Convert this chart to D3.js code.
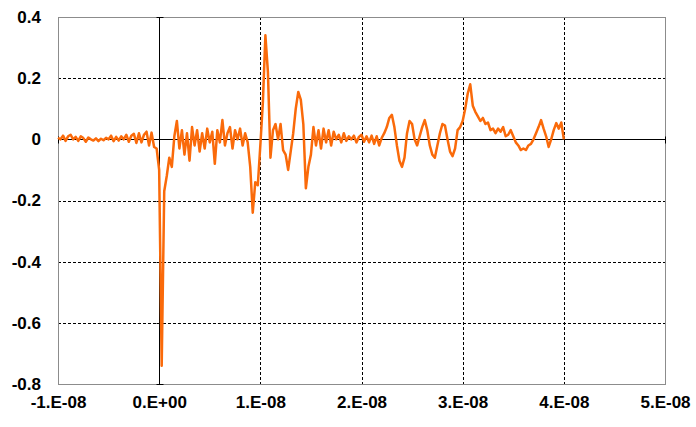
<!DOCTYPE html>
<html lang="en">
<head>
  <meta charset="UTF-8">
  <title>signal</title>
  <style>
    body { margin: 0; background: #fff; }
    #main { width: 696px; height: 427px; }
    .tick text { font-family: "Liberation Sans", Arial, sans-serif; font-weight: bold; font-size: 17px; fill: #000; }
  </style>
</head>
<body>
  <div id="main"></div>
  <script src="https://cdnjs.cloudflare.com/ajax/libs/d3/7.8.5/d3.min.js"></script>
  <script>
    // ticks
    const xTicks = [-1e-8, 0, 1e-8, 2e-8, 3e-8, 4e-8, 5e-8]
    const xTickLabels = ['-1.E-08', '0.E+00', '1.E-08', '2.E-08', '3.E-08', '4.E-08', '5.E-08']
    const yTicks = [-0.8, -0.6, -0.4, -0.2, 0, 0.2, 0.4]
    const yTickLabels = ['-0.8', '-0.6', '-0.4', '-0.2', '0', '0.2', '0.4']

    // sampled every 0.25 ns starting at -10 ns
    const startNs = -10
    const stepNs = 0.25
    const signal = [
      // -10 .. -1 ns
      0.005, 0.0, 0.012, -0.005,
      0.01, 0.015, 0.0, 0.008,
      -0.005, 0.01, 0.004, -0.008,
      0.006, 0.0, -0.004, 0.003,
      -0.006, 0.002, -0.003, 0.005,
      0.0, 0.012, -0.006, 0.008,
      -0.004, 0.01, 0.0, 0.015,
      -0.008, 0.012, 0.018, -0.012,
      0.02, -0.01, 0.015, 0.025,
      -0.02, 0.022, -0.025, -0.03,
      // 0 .. 9 ns
      -0.1, -0.74, -0.17, -0.12,
      -0.06, -0.09, 0.01, 0.06,
      -0.03, 0.03, -0.05, 0.02,
      -0.07, 0.04, -0.02, 0.03,
      -0.04, 0.02, -0.03, 0.035,
      -0.01, 0.025, -0.08, 0.03,
      -0.01, 0.063, -0.02, 0.02,
      0.04, -0.03, 0.03, 0.0,
      0.035, -0.02, 0.02, -0.01,
      -0.09, -0.24, -0.14, -0.15,
      // 10 .. 19 ns
      -0.02, 0.12, 0.34, 0.22,
      -0.06, 0.03, 0.05, 0.0,
      0.05, -0.035, -0.05, -0.1,
      -0.04, 0.02, 0.1, 0.155,
      0.13, 0.05, -0.16, -0.09,
      -0.05, 0.04, -0.02, 0.03,
      -0.03, 0.035, -0.01, 0.03,
      -0.02, 0.025, 0.0, 0.015,
      -0.01, 0.02, -0.005, 0.01,
      0.0, 0.012, -0.01, 0.008,
      // 20 .. 29 ns
      0.015, -0.008, 0.01, -0.01,
      0.012, -0.015, 0.01, -0.02,
      0.005, 0.02, 0.04, 0.07,
      0.08, 0.04, -0.02, -0.07,
      -0.09, -0.06, 0.02, 0.06,
      0.05, 0.0, -0.02, 0.01,
      0.04, 0.063, 0.03, -0.02,
      -0.05, -0.06, -0.02, 0.02,
      0.05, 0.045, 0.0, -0.04,
      -0.055, -0.03, 0.03, 0.04,
      // 30 .. 40 ns
      0.06, 0.1, 0.15, 0.18,
      0.11, 0.09, 0.075, 0.06,
      0.07, 0.05, 0.055, 0.03,
      0.035, 0.02, 0.035, 0.025,
      0.04, 0.01, 0.015, 0.03,
      0.01, -0.01, -0.02, -0.035,
      -0.03, -0.035, -0.02, -0.015,
      0.0, 0.02, 0.04, 0.063,
      0.035, 0.01, -0.025, 0.0,
      0.03, 0.053, 0.035, 0.055,
      0.0
    ]

    const [width, height] = [696, 427]
    const margin = { left: 58, right: 31, top: 17, bottom: 43 }

    const svg = d3.select('#main').append('svg')
      .attr('width', width)
      .attr('height', height)
      .attr('viewBox', `0 0 ${width} ${height}`)

    const xScale = d3.scaleLinear()
      .domain([xTicks[0], xTicks[xTicks.length - 1]])
      .range([margin.left, width - margin.right])
    const yScale = d3.scaleLinear()
      .domain([yTicks[0], yTicks[yTicks.length - 1]])
      .range([height - margin.bottom, margin.top])

    const [x0, x1] = xScale.range()
    const [y0, y1] = yScale.range()

    // dashed grid
    const gridY = yTicks.filter(v => v !== 0 && v !== yTicks[0] && v !== yTicks[yTicks.length - 1])
    const gridX = xTicks.filter(v => v !== 0 && v !== xTicks[0] && v !== xTicks[xTicks.length - 1])
    svg.append('g')
      .selectAll('line')
      .data(gridY)
      .join('line')
      .attr('x1', x0).attr('x2', x1)
      .attr('y1', d => Math.round(yScale(d)) + 0.5)
      .attr('y2', d => Math.round(yScale(d)) + 0.5)
      .attr('stroke', '#000')
      .attr('stroke-dasharray', '3,2')
    svg.append('g')
      .selectAll('line')
      .data(gridX)
      .join('line')
      .attr('y1', y1).attr('y2', y0)
      .attr('x1', d => Math.round(xScale(d)) + 0.5)
      .attr('x2', d => Math.round(xScale(d)) + 0.5)
      .attr('stroke', '#000')
      .attr('stroke-dasharray', '3,2')

    // plot border
    svg.append('rect')
      .attr('x', x0 + 0.5).attr('y', y1 + 0.5)
      .attr('width', x1 - x0).attr('height', y0 - y1)
      .attr('fill', 'none')
      .attr('stroke', '#8c8c8c')

    // zero axes
    const zx = Math.round(xScale(0)) + 0.5
    const zy = Math.round(yScale(0)) + 0.5
    svg.append('line')
      .attr('x1', x0).attr('x2', x1 + 1).attr('y1', zy).attr('y2', zy)
      .attr('stroke', '#000')
    svg.append('line')
      .attr('x1', zx).attr('x2', zx).attr('y1', y1).attr('y2', y0 + 1)
      .attr('stroke', '#000')
    svg.append('g')
      .selectAll('line')
      .data(xTicks)
      .join('line')
      .attr('x1', d => Math.round(xScale(d)) + 0.5)
      .attr('x2', d => Math.round(xScale(d)) + 0.5)
      .attr('y1', zy - 3).attr('y2', zy + 4)
      .attr('stroke', '#000')
    svg.append('g')
      .selectAll('line')
      .data(yTicks)
      .join('line')
      .attr('y1', d => Math.round(yScale(d)) + 0.5)
      .attr('y2', d => Math.round(yScale(d)) + 0.5)
      .attr('x1', zx - 3).attr('x2', zx + 4)
      .attr('stroke', '#000')

    // tick labels
    svg.append('g')
      .attr('transform', `translate(0 ${y0 + 9})`)
      .call(d3.axisBottom(xScale).tickValues(xTicks).tickSize(0)
        .tickFormat((d, i) => xTickLabels[i]))
      .call(g => g.select('.domain').remove())
    svg.append('g')
      .attr('transform', `translate(${x0 - 14} 0)`)
      .call(d3.axisLeft(yScale).tickValues(yTicks).tickSize(0)
        .tickFormat((d, i) => yTickLabels[i]))
      .call(g => g.select('.domain').remove())

    // signal
    const line = d3.line()
      .x((d, i) => xScale((startNs + i * stepNs) * 1e-9))
      .y(d => yScale(d))
    svg.append('path')
      .datum(signal)
      .attr('d', line)
      .attr('fill', 'none')
      .attr('stroke', '#fa6a0a')
      .attr('stroke-width', 2.5)
      .attr('stroke-linejoin', 'round')
  </script>
</body>
</html>
